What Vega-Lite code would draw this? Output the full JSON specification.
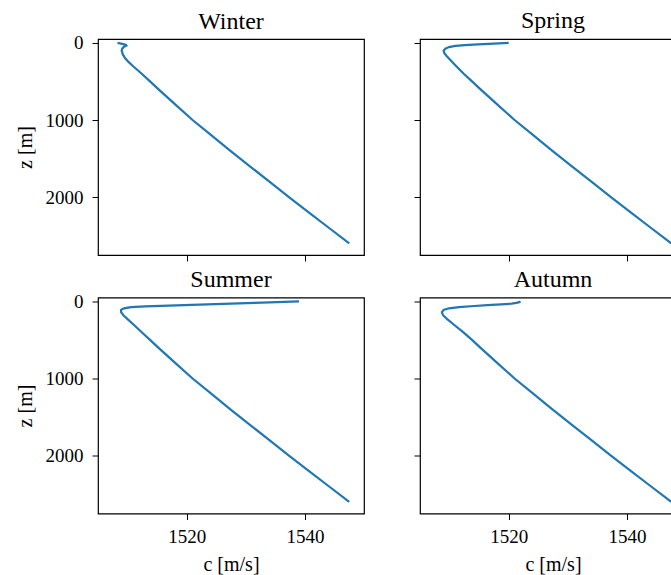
{
  "$schema": "https://vega.github.io/schema/vega-lite/v6.json",
  "padding": {"left": 14, "top": 8, "right": 0, "bottom": 0},
  "datasets": {
    "profiles": [
      {"season": "Winter", "z": 0, "c": 1508.3},
      {"season": "Winter", "z": 10, "c": 1508.9},
      {"season": "Winter", "z": 25, "c": 1509.7},
      {"season": "Winter", "z": 35, "c": 1509.8},
      {"season": "Winter", "z": 50, "c": 1509.4},
      {"season": "Winter", "z": 75, "c": 1509.1},
      {"season": "Winter", "z": 100, "c": 1509.0},
      {"season": "Winter", "z": 150, "c": 1509.2},
      {"season": "Winter", "z": 200, "c": 1509.6},
      {"season": "Winter", "z": 250, "c": 1510.2},
      {"season": "Winter", "z": 300, "c": 1510.9},
      {"season": "Winter", "z": 400, "c": 1512.4},
      {"season": "Winter", "z": 500, "c": 1513.8},
      {"season": "Winter", "z": 600, "c": 1515.2},
      {"season": "Winter", "z": 800, "c": 1518.1},
      {"season": "Winter", "z": 1000, "c": 1521.0},
      {"season": "Winter", "z": 1200, "c": 1524.2},
      {"season": "Winter", "z": 1400, "c": 1527.4},
      {"season": "Winter", "z": 1600, "c": 1530.7},
      {"season": "Winter", "z": 1800, "c": 1534.0},
      {"season": "Winter", "z": 2000, "c": 1537.3},
      {"season": "Winter", "z": 2200, "c": 1540.7},
      {"season": "Winter", "z": 2400, "c": 1544.1},
      {"season": "Winter", "z": 2600, "c": 1547.5},
      {"season": "Spring", "z": 0, "c": 1520.0},
      {"season": "Spring", "z": 10, "c": 1517.5},
      {"season": "Spring", "z": 20, "c": 1514.8},
      {"season": "Spring", "z": 30, "c": 1512.6},
      {"season": "Spring", "z": 40, "c": 1511.0},
      {"season": "Spring", "z": 55, "c": 1509.9},
      {"season": "Spring", "z": 75, "c": 1509.3},
      {"season": "Spring", "z": 100, "c": 1509.0},
      {"season": "Spring", "z": 130, "c": 1509.1},
      {"season": "Spring", "z": 170, "c": 1509.5},
      {"season": "Spring", "z": 220, "c": 1510.1},
      {"season": "Spring", "z": 300, "c": 1511.1},
      {"season": "Spring", "z": 400, "c": 1512.4},
      {"season": "Spring", "z": 500, "c": 1513.8},
      {"season": "Spring", "z": 600, "c": 1515.2},
      {"season": "Spring", "z": 800, "c": 1518.1},
      {"season": "Spring", "z": 1000, "c": 1521.0},
      {"season": "Spring", "z": 1200, "c": 1524.2},
      {"season": "Spring", "z": 1400, "c": 1527.4},
      {"season": "Spring", "z": 1600, "c": 1530.7},
      {"season": "Spring", "z": 1800, "c": 1534.0},
      {"season": "Spring", "z": 2000, "c": 1537.3},
      {"season": "Spring", "z": 2200, "c": 1540.7},
      {"season": "Spring", "z": 2400, "c": 1544.1},
      {"season": "Spring", "z": 2600, "c": 1547.5},
      {"season": "Summer", "z": 0, "c": 1539.0},
      {"season": "Summer", "z": 20, "c": 1531.5},
      {"season": "Summer", "z": 40, "c": 1523.5},
      {"season": "Summer", "z": 55, "c": 1517.0},
      {"season": "Summer", "z": 65, "c": 1513.0},
      {"season": "Summer", "z": 75, "c": 1510.6},
      {"season": "Summer", "z": 90, "c": 1509.4},
      {"season": "Summer", "z": 110, "c": 1508.9},
      {"season": "Summer", "z": 140, "c": 1508.9},
      {"season": "Summer", "z": 180, "c": 1509.3},
      {"season": "Summer", "z": 230, "c": 1510.0},
      {"season": "Summer", "z": 300, "c": 1511.0},
      {"season": "Summer", "z": 400, "c": 1512.4},
      {"season": "Summer", "z": 500, "c": 1513.8},
      {"season": "Summer", "z": 600, "c": 1515.2},
      {"season": "Summer", "z": 800, "c": 1518.1},
      {"season": "Summer", "z": 1000, "c": 1521.0},
      {"season": "Summer", "z": 1200, "c": 1524.2},
      {"season": "Summer", "z": 1400, "c": 1527.4},
      {"season": "Summer", "z": 1600, "c": 1530.7},
      {"season": "Summer", "z": 1800, "c": 1534.0},
      {"season": "Summer", "z": 2000, "c": 1537.3},
      {"season": "Summer", "z": 2200, "c": 1540.7},
      {"season": "Summer", "z": 2400, "c": 1544.1},
      {"season": "Summer", "z": 2600, "c": 1547.5},
      {"season": "Autumn", "z": 0, "c": 1522.0},
      {"season": "Autumn", "z": 10, "c": 1521.8},
      {"season": "Autumn", "z": 20, "c": 1521.3},
      {"season": "Autumn", "z": 30, "c": 1520.5},
      {"season": "Autumn", "z": 40, "c": 1518.7},
      {"season": "Autumn", "z": 50, "c": 1516.4},
      {"season": "Autumn", "z": 60, "c": 1514.2},
      {"season": "Autumn", "z": 75, "c": 1511.6},
      {"season": "Autumn", "z": 90, "c": 1509.9},
      {"season": "Autumn", "z": 110, "c": 1509.0},
      {"season": "Autumn", "z": 140, "c": 1508.7},
      {"season": "Autumn", "z": 180, "c": 1508.9},
      {"season": "Autumn", "z": 230, "c": 1509.6},
      {"season": "Autumn", "z": 300, "c": 1510.7},
      {"season": "Autumn", "z": 400, "c": 1512.3},
      {"season": "Autumn", "z": 500, "c": 1513.8},
      {"season": "Autumn", "z": 600, "c": 1515.2},
      {"season": "Autumn", "z": 800, "c": 1518.1},
      {"season": "Autumn", "z": 1000, "c": 1521.0},
      {"season": "Autumn", "z": 1200, "c": 1524.2},
      {"season": "Autumn", "z": 1400, "c": 1527.4},
      {"season": "Autumn", "z": 1600, "c": 1530.7},
      {"season": "Autumn", "z": 1800, "c": 1534.0},
      {"season": "Autumn", "z": 2000, "c": 1537.3},
      {"season": "Autumn", "z": 2200, "c": 1540.7},
      {"season": "Autumn", "z": 2400, "c": 1544.1},
      {"season": "Autumn", "z": 2600, "c": 1547.5}
    ]
  },
  "data": {"name": "profiles"},
  "config": {
    "view": {"stroke": "black", "strokeWidth": 1.2},
    "font": "Liberation Serif",
    "axis": {
      "domain": false,
      "grid": false,
      "tickColor": "black",
      "tickSize": 6,
      "tickWidth": 1,
      "format": "d",
      "labelFont": "Liberation Serif",
      "labelFontSize": 19,
      "labelColor": "black",
      "titleFont": "Liberation Serif",
      "titleFontSize": 20,
      "titleFontWeight": "normal",
      "titleColor": "black"
    },
    "title": {"font": "Liberation Serif", "fontSize": 24, "fontWeight": "normal", "color": "black"},
    "line": {"color": "#1f77b4", "strokeWidth": 2.2}
  },
  "spacing": 3.5,
  "vconcat": [
    {
      "spacing": 47,
      "hconcat": [
        {
          "title": {"text": "Winter", "offset": 0},
          "width": 266, "height": 216,
          "transform": [{"filter": "datum.season === 'Winter'"}],
          "mark": {"type": "line"},
          "encoding": {
            "x": {"field": "c", "type": "quantitative", "scale": {"domain": [1505, 1550], "nice": false, "zero": false}, "axis": {"values": [1520, 1540], "labels": false, "title": null}},
            "y": {"field": "z", "type": "quantitative", "scale": {"domain": [-50, 2750], "reverse": true, "nice": false, "zero": false}, "axis": {"values": [0, 1000, 2000], "title": "z [m]", "labelPadding": 9, "titlePadding": 10}},
            "order": {"field": "z", "type": "quantitative"}
          }
        },
        {
          "title": {"text": "Spring", "offset": 5},
          "width": 266, "height": 216,
          "transform": [{"filter": "datum.season === 'Spring'"}],
          "mark": {"type": "line"},
          "encoding": {
            "x": {"field": "c", "type": "quantitative", "scale": {"domain": [1505, 1550], "nice": false, "zero": false}, "axis": {"values": [1520, 1540], "labels": false, "title": null}},
            "y": {"field": "z", "type": "quantitative", "scale": {"domain": [-50, 2750], "reverse": true, "nice": false, "zero": false}, "axis": {"values": [0, 1000, 2000], "labels": false, "title": null}},
            "order": {"field": "z", "type": "quantitative"}
          }
        }
      ]
    },
    {
      "spacing": 47,
      "hconcat": [
        {
          "title": {"text": "Summer", "offset": 0},
          "width": 266, "height": 216,
          "transform": [{"filter": "datum.season === 'Summer'"}],
          "mark": {"type": "line"},
          "encoding": {
            "x": {"field": "c", "type": "quantitative", "scale": {"domain": [1505, 1550], "nice": false, "zero": false}, "axis": {"values": [1520, 1540], "title": "c [m/s]", "labelPadding": 8, "titlePadding": 8}},
            "y": {"field": "z", "type": "quantitative", "scale": {"domain": [-50, 2750], "reverse": true, "nice": false, "zero": false}, "axis": {"values": [0, 1000, 2000], "title": "z [m]", "labelPadding": 9, "titlePadding": 10}},
            "order": {"field": "z", "type": "quantitative"}
          }
        },
        {
          "title": {"text": "Autumn", "offset": 5},
          "width": 266, "height": 216,
          "transform": [{"filter": "datum.season === 'Autumn'"}],
          "mark": {"type": "line"},
          "encoding": {
            "x": {"field": "c", "type": "quantitative", "scale": {"domain": [1505, 1550], "nice": false, "zero": false}, "axis": {"values": [1520, 1540], "title": "c [m/s]", "labelPadding": 8, "titlePadding": 8}},
            "y": {"field": "z", "type": "quantitative", "scale": {"domain": [-50, 2750], "reverse": true, "nice": false, "zero": false}, "axis": {"values": [0, 1000, 2000], "labels": false, "title": null}},
            "order": {"field": "z", "type": "quantitative"}
          }
        }
      ]
    }
  ]
}
